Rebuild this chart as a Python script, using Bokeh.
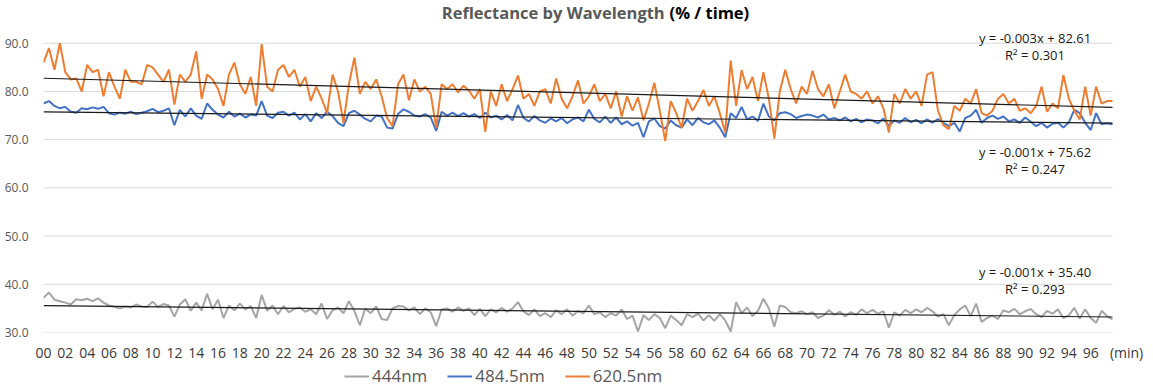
import numpy as np
from bokeh.plotting import figure
from bokeh.layouts import column
from bokeh.models import Range1d, FixedTicker, Label, Legend, LegendItem
from bokeh.embed import file_html
from bokeh.resources import INLINE

# ---------------- data (one reading per half minute) -------------
series_names = ["444nm", "484.5nm", "620.5nm"]

nm620 = [
    86.0, 89.0, 84.5, 90.0, 84.0, 82.5, 82.7, 80.0, 85.5, 84.0,
    84.5, 79.0, 84.0, 81.0, 78.5, 84.5, 82.0, 82.0, 81.5, 85.5,
    85.0, 83.5, 82.0, 84.5, 77.3, 83.5, 82.0, 83.5, 88.3, 78.5,
    83.5, 82.5, 80.5, 77.0, 83.5, 86.0, 81.5, 79.5, 83.0, 77.0,
    89.8, 81.0, 80.0, 84.5, 85.5, 83.0, 84.5, 81.0, 83.0, 78.0,
    81.0, 78.5, 75.5, 83.5, 80.0, 73.5, 81.5, 87.0, 79.5, 82.0,
    80.5, 82.5, 79.0, 74.5, 72.8, 81.5,
    83.5, 78.2, 82.5, 80.0, 81.0, 79.5, 72.5, 81.5, 80.5, 81.5,
    79.8, 81.2, 80.2, 78.5, 80.5, 71.6, 80.0, 77.0, 81.5, 78.0,
    80.5, 83.3, 78.5, 79.5, 77.0, 80.0, 80.5, 77.5, 82.7, 78.5,
    76.5, 79.0, 82.3, 77.5, 79.0, 81.5, 78.0, 79.5, 76.5, 80.0,
    74.8, 79.0, 76.0, 78.8, 74.0, 77.5, 81.8, 76.0, 69.7, 78.0,
    75.5, 72.5, 78.5, 76.0, 78.0, 80.3, 77.0, 79.0, 75.5, 71.5,
    86.4, 77.0, 84.4, 80.5, 83.0, 78.0,
    84.0, 78.5, 70.2, 80.0, 84.5, 80.5, 77.5, 81.0, 79.5, 84.3,
    80.5, 79.0, 81.5, 76.5, 80.0, 83.5, 80.0, 79.5, 78.5, 80.0,
    77.5, 79.0, 76.5, 71.5, 79.5, 77.5, 80.5, 78.5, 80.0, 77.0,
    83.5, 84.0, 76.0, 73.0, 72.2, 77.0, 76.0, 78.5, 77.5, 80.5,
    75.5, 75.0, 76.0, 78.5, 79.5, 77.5, 78.5, 76.0, 76.5, 75.5,
    77.0, 81.0, 75.8, 77.5, 76.5, 83.4, 78.5, 76.0, 74.2, 81.0,
    75.0, 81.0, 77.5, 78.0, 78.0,
]

nm484 = [
    77.5, 78.0, 77.0, 76.5, 76.8, 75.8, 75.6, 76.5, 76.3, 76.7,
    76.4, 76.8, 75.5, 75.2, 75.6, 75.4, 75.8, 75.3, 75.6, 75.9,
    76.4, 75.7, 76.0, 76.5, 73.0, 76.2, 74.8, 76.5, 75.0, 74.3,
    77.5, 76.2, 75.2, 74.6, 75.8, 74.8, 75.4, 74.6, 75.2, 75.0,
    78.0, 75.0, 74.5, 75.6, 75.8, 75.0, 75.6, 74.2, 75.3, 73.8,
    75.5, 74.5, 75.8, 74.9, 73.5, 72.8, 75.5, 76.0, 75.2, 74.3,
    73.8, 75.0, 74.8, 72.5, 72.3, 75.3,
    76.3, 75.8, 75.0, 74.8, 75.3, 74.6, 71.8, 75.8, 75.0, 75.6,
    74.9, 75.5, 74.8, 75.3, 74.5, 75.6, 74.6, 75.0, 74.2, 75.1,
    74.0, 77.2, 74.5, 73.8, 74.9, 74.0, 73.5, 74.4, 73.8, 74.5,
    73.4, 74.2, 74.6, 73.8, 76.2, 74.3, 73.6, 74.8, 73.5, 74.6,
    73.2, 73.8, 72.9, 73.5, 70.5, 73.8, 74.4, 72.8, 72.3, 74.0,
    73.0, 72.5, 74.2, 73.0, 74.5, 73.6, 73.2, 74.0, 72.5, 70.5,
    75.5, 74.5, 76.8, 74.2, 74.8, 73.9,
    77.5, 74.8, 74.0, 75.5, 75.7, 75.3, 74.5, 74.9, 75.2, 75.0,
    74.6, 75.2, 74.2, 74.5, 74.0, 74.6, 73.8, 74.3, 73.6, 74.2,
    74.0, 73.4, 74.4, 72.8, 74.0, 73.5, 74.5, 73.6, 74.1, 73.4,
    74.2, 73.5, 74.3, 73.5, 72.8, 73.5, 71.7, 74.5, 75.0, 76.2,
    73.5, 74.5, 75.0, 74.3, 74.8, 73.8, 74.2, 73.5, 74.6, 73.7,
    72.8, 73.5, 72.5, 73.3, 73.5, 72.5, 73.6, 76.2, 75.5, 73.5,
    72.0, 75.5, 73.2, 73.4, 73.2,
]

nm444 = [
    37.2, 38.3, 36.8, 36.5, 36.2, 35.8, 36.9, 36.7, 37.0, 36.5,
    37.1, 36.2, 35.6, 35.3, 35.0, 35.4, 35.2, 35.8, 35.4, 35.3,
    36.4, 35.3, 35.9, 35.6, 33.3, 35.8, 36.9, 34.5, 36.2, 34.6,
    38.0, 34.8, 36.8, 33.0, 35.6, 34.6, 36.0, 34.8, 35.5, 33.0,
    37.8, 34.5, 35.6, 33.8, 35.5, 34.2, 34.9, 35.2, 34.3, 34.8,
    33.8, 36.0, 32.8, 34.6, 35.2, 34.0, 36.5, 34.5, 31.5, 35.0,
    34.0, 35.4, 32.8, 32.6, 35.0, 35.5,
    35.4, 34.6, 35.2, 33.8, 35.0, 34.2, 31.3, 34.8, 35.0, 34.3,
    35.2, 34.5, 35.0, 33.6, 34.9, 33.4, 34.8, 34.2, 35.1, 34.3,
    35.0, 36.3, 34.4, 33.6, 34.8, 33.4, 34.0, 33.2, 34.6, 33.8,
    34.8, 33.5, 34.4, 34.0, 35.6, 33.8, 34.2, 33.2, 34.0, 33.5,
    34.8, 32.8, 33.5, 30.2, 33.6, 32.6, 33.8, 33.0, 30.9, 33.5,
    32.6, 31.5, 33.8, 33.2, 33.9, 32.5, 33.6, 32.4, 33.8, 32.5,
    30.2, 36.3, 34.0, 35.2, 33.4, 34.5, 37.0, 35.0, 31.2, 35.6,
    35.3, 34.2,
    34.0, 34.4, 33.8, 34.2, 33.0, 33.5, 34.6, 33.7, 34.3, 33.3,
    34.2, 33.7, 34.8, 34.0, 34.7, 33.9, 34.4, 31.0, 34.2, 33.5,
    34.7, 34.0, 34.8, 34.2, 35.1, 34.4, 33.3, 33.8, 31.5, 33.6,
    34.8, 35.6, 33.4, 36.0, 32.2, 33.0, 33.5, 32.8, 34.6, 34.2,
    34.9, 33.8, 34.4, 34.9, 33.8, 33.2, 34.5, 33.9, 34.8, 33.0,
    33.6, 35.1, 32.9, 34.8, 33.0, 32.0, 34.5, 33.4, 32.7,
]

time_min = [i * 0.5 for i in range(len(nm620))]

x_tick_values = list(range(0, 97, 2))
x_tick_labels = ["%02d" % v for v in x_tick_values]
x_unit_label = "(min)"
y_tick_values = [30, 40, 50, 60, 70, 80, 90]
y_tick_labels = ["30.0", "40.0", "50.0", "60.0", "70.0", "80.0", "90.0"]

trend_texts = {
    "620.5nm": ("y = -0.003x + 82.61", "R\u00b2 = 0.301"),
    "484.5nm": ("y = -0.001x + 75.62", "R\u00b2 = 0.247"),
    "444nm": ("y = -0.001x + 35.40", "R\u00b2 = 0.293"),
}

# ---------------- styling ----------------
FONT = "Open Sans"
GRAY = "#a5a5a5"
BLUE = "#4472c4"
ORANGE = "#ed7d31"
TXT = "#595959"
X_END = 98.0            # last minute of data / end of the grid
X_MAX = 101.76          # extra room on the right for the "(min)" label
Y_TOP = 98.87           # room above 90 for title / equation

p = figure(width=1153, height=364, output_backend="svg", toolbar_location=None,
           x_range=Range1d(0, X_MAX), y_range=Range1d(30, Y_TOP),
           min_border_left=43, min_border_right=0, min_border_top=0, min_border_bottom=30)
p.outline_line_color = None
p.background_fill_color = "white"
p.border_fill_color = "white"
p.xgrid.visible = False
p.ygrid.visible = False

# horizontal gridlines, spanning the data width only
p.segment(x0=[0] * len(y_tick_values), x1=[X_END] * len(y_tick_values),
          y0=y_tick_values, y1=y_tick_values, line_color="#d9d9d9", line_width=1)

p.yaxis.ticker = FixedTicker(ticks=y_tick_values)
p.yaxis.major_label_overrides = {v: s for v, s in zip(y_tick_values, y_tick_labels)}
p.yaxis.axis_line_color = None
p.yaxis.major_tick_line_color = None
p.yaxis.minor_tick_line_color = None
p.yaxis.major_tick_out = 0
p.yaxis.major_label_standoff = 15
p.yaxis.major_label_text_font = FONT
p.yaxis.major_label_text_font_size = "12px"
p.yaxis.major_label_text_color = TXT

unit_pos = 99.29
p.xaxis.ticker = FixedTicker(ticks=x_tick_values + [unit_pos])
overrides = {v: s for v, s in zip(x_tick_values, x_tick_labels)}
overrides[unit_pos] = x_unit_label
p.xaxis.major_label_overrides = overrides
p.xaxis.axis_line_color = None
p.xaxis.major_tick_line_color = None
p.xaxis.minor_tick_line_color = None
p.xaxis.major_tick_out = 0
p.xaxis.major_label_standoff = 10
p.xaxis.major_label_text_font = FONT
p.xaxis.major_label_text_font_size = "14px"
p.xaxis.major_label_text_color = "#3a3a3a"

t = np.array(time_min)
p.line(t, nm444, line_color=GRAY, line_width=2)
p.line(t, nm484, line_color=BLUE, line_width=2)
p.line(t, nm620, line_color=ORANGE, line_width=2)

# linear trendlines computed from the data
for vals in (nm444, nm484, nm620):
    k, b = np.polyfit(t, np.array(vals), 1)
    xs = np.array([0.0, X_END])
    p.line(xs, k * xs + b, line_color="#1a1a1a", line_width=1.2)

# trendline equations
eq_pos = {"620.5nm": (91.03, 87.53), "484.5nm": (67.53, 64.02), "444nm": (42.58, 39.07)}
for name, (y1, y2) in eq_pos.items():
    e, r = trend_texts[name]
    for txt, yy in ((e, y1), (r, y2)):
        p.add_layout(Label(x=90.9, y=yy, text=txt, text_align="center", text_baseline="middle",
                           text_font=FONT, text_font_size="13px", text_color="#1a1a1a"))

# title (two colours)
p.add_layout(Label(x=56.95, y=96.4, text="Reflectance by Wavelength", text_align="right",
                   text_baseline="middle", text_font=FONT, text_font_size="16.5px",
                   text_font_style="bold", text_color=TXT))
p.add_layout(Label(x=57.40, y=96.4, text="(% / time)", text_align="left",
                   text_baseline="middle", text_font=FONT, text_font_size="16.5px",
                   text_font_style="bold", text_color="#000000"))

# ---------------- legend strip underneath ----------------
p2 = figure(width=1153, height=24, output_backend="svg", toolbar_location=None,
            x_range=Range1d(0, X_END), y_range=Range1d(0, 1),
            x_axis_type=None, y_axis_type=None,
            min_border_left=0, min_border_right=0, min_border_top=0, min_border_bottom=0)
p2.outline_line_color = None
p2.xgrid.visible = False
p2.ygrid.visible = False
k_g = p2.line(t, nm444, line_color=GRAY, line_width=2)     # out of view: legend keys only
k_b = p2.line(t, nm484, line_color=BLUE, line_width=2)
k_o = p2.line(t, nm620, line_color=ORANGE, line_width=2)

legend = Legend(items=[LegendItem(label=series_names[0], renderers=[k_g]),
                       LegendItem(label=series_names[1], renderers=[k_b]),
                       LegendItem(label=series_names[2], renderers=[k_o])],
                orientation="horizontal", location=(301, 1),
                label_text_font=FONT, label_text_font_size="17px", label_text_color=TXT,
                glyph_width=25, glyph_height=18, label_height=18, label_standoff=3, spacing=20,
                padding=0, margin=0, border_line_color=None, background_fill_alpha=0)
p2.add_layout(legend, "center")

layout = column(p, p2, spacing=0)
open("out.html", "w").write(file_html(layout, INLINE))
